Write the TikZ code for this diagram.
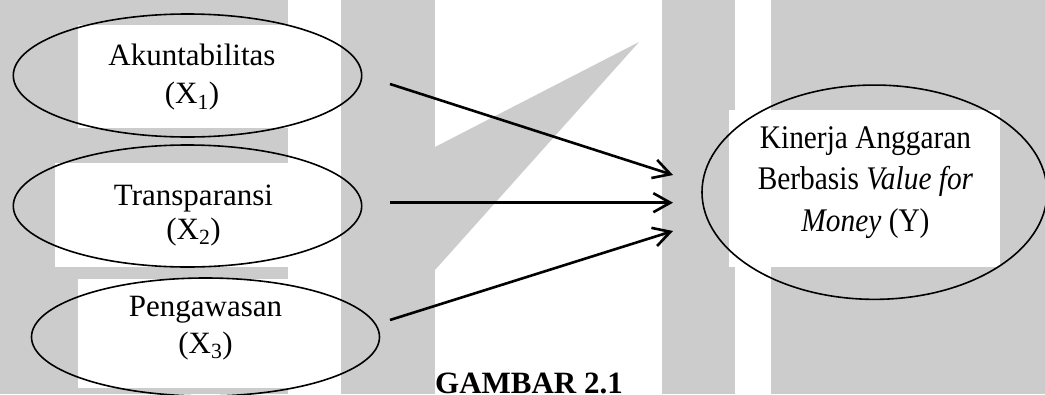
\documentclass[tikz,border=0pt]{standalone}
\usepackage{fontspec}
\setmainfont{Liberation Serif}
\newfontfamily\narrowserif[FakeStretch=0.89]{Liberation Serif}
\usetikzlibrary{shapes.geometric,arrows.meta}
\definecolor{bggrey}{RGB}{204,204,204}
\newcommand{\lblsize}[1]{\fontsize{31}{#1}\selectfont}

\begin{document}
\begin{tikzpicture}[x=1pt,y=-1pt,
  var/.style={ellipse, draw=black, line width=1.6pt, inner sep=0pt},
  lbl/.style={anchor=base, align=center, inner sep=0pt},
  link/.style={line width=2.6pt, -{Straight Barb[length=17pt,width=19pt]}}
]
\clip (0,0) rectangle (1045,394);

% backdrop: grey page with white bands and text boxes
\fill[bggrey] (0,0) rectangle (1045,394);
\fill[white] (288,0) rectangle (341,394);
\fill[white] (435,0) rectangle (662,394);
\fill[white] (735,0) rectangle (771,394);
\fill[white] (78,25) rectangle (288,128);
\fill[white] (55,163) rectangle (288,267);
\fill[white] (78,279) rectangle (288,388);
\fill[white] (729,110) rectangle (1000,267);
\fill[bggrey] (435,147) -- (639,42) -- (435,270) -- cycle;

% variables
\node[var, minimum width=348.4pt, minimum height=123pt] (x1) at (187.5,75.5) {};
\node[var, minimum width=348.4pt, minimum height=122pt] (x2) at (187.5,206) {};
\node[var, minimum width=348pt, minimum height=118pt] (x3) at (205.5,337) {};
\node[var, minimum width=345pt, minimum height=214.3pt] (y) at (874.5,192.2) {};

% labels, placed by the baseline of their last line
\node[lbl, font=\lblsize{37.8}] (t1) at (192,103.5) {Akuntabilitas\\(X\textsubscript{1})};
\node[lbl, font=\lblsize{34}] (t2) at (193.5,239) {Transparansi\\(X\textsubscript{2})};
\node[lbl, font=\lblsize{36.3}] (t3) at (205.5,353) {Pengawasan\\(X\textsubscript{3})};
\node[lbl, font=\narrowserif\fontsize{33}{41.5}\selectfont] (ty) at (865.5,231)
  {Kinerja Anggaran\\Berbasis \textit{Value for}\\\textit{Money} (Y)};

% influence arrows
\coordinate (s1) at (390,84);
\coordinate (e1) at (673,175);
\coordinate (s2) at (390,202.7);
\coordinate (e2) at (673,202.7);
\coordinate (s3) at (390,320);
\coordinate (e3) at (673,231);
\draw[link] (s1) -- (e1);
\draw[link] (s2) -- (e2);
\draw[link] (s3) -- (e3);

\node[anchor=base, inner sep=0pt, font=\bfseries\fontsize{31}{37}\selectfont] (cap) at (529,393) {GAMBAR 2.1};
\end{tikzpicture}
\end{document}
